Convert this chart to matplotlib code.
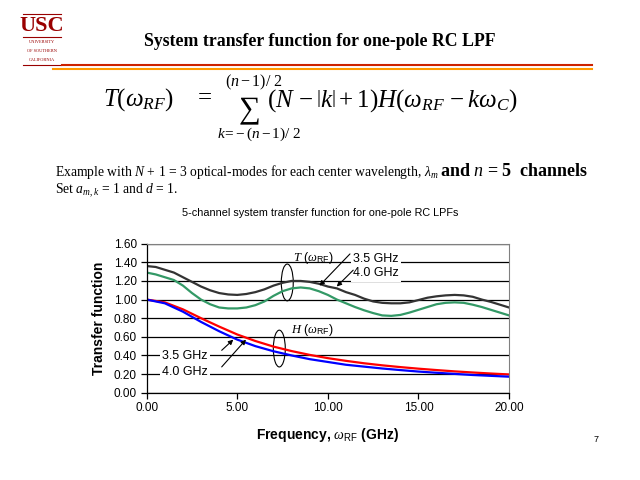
import numpy as np
import matplotlib
matplotlib.use("Agg")
import matplotlib.pyplot as plt
from matplotlib.patches import Ellipse
from matplotlib.ticker import FormatStrFormatter, MultipleLocator

plt.rcParams["font.family"] = ["Liberation Sans", "DejaVu Sans"]
plt.rcParams["mathtext.fontset"] = "custom"
plt.rcParams["mathtext.rm"] = "Liberation Serif"
plt.rcParams["mathtext.it"] = "Liberation Serif:italic"
plt.rcParams["mathtext.bf"] = "Liberation Serif:bold"
plt.rcParams["mathtext.sf"] = "Liberation Sans"

# frequency grids (GHz)
freq_t = np.arange(0, 20.5, 0.5)
freq_h = np.arange(0, 21, 1.0)

# T(w_RF), fc = 3.5 GHz (dark) and 4.0 GHz (green)
t_35 = [1.36, 1.35, 1.32, 1.29, 1.24, 1.19, 1.14, 1.10, 1.07, 1.055,
        1.05, 1.06, 1.08, 1.11, 1.15, 1.18, 1.20, 1.20, 1.19, 1.17,
        1.14, 1.12, 1.08, 1.05, 1.01, 0.98, 0.965, 0.96, 0.96, 0.97,
        0.995, 1.02, 1.035, 1.045, 1.05, 1.045, 1.03, 1.00, 0.975, 0.945,
        0.915]
t_40 = [1.29, 1.27, 1.24, 1.21, 1.15, 1.07, 1.00, 0.95, 0.915, 0.905,
        0.905, 0.915, 0.94, 0.98, 1.04, 1.09, 1.12, 1.13, 1.12, 1.09,
        1.05, 1.00, 0.96, 0.92, 0.885, 0.855, 0.83, 0.825, 0.835, 0.86,
        0.89, 0.92, 0.95, 0.965, 0.97, 0.965, 0.945, 0.92, 0.89, 0.86,
        0.83]

# H(w_RF)
h_40 = [1.0, 0.97, 0.895, 0.80, 0.71, 0.625, 0.555, 0.495, 0.447, 0.406,
        0.371, 0.342, 0.316, 0.294, 0.275, 0.258, 0.243, 0.229, 0.217,
        0.206, 0.196]
h_35 = [1.0, 0.96, 0.87, 0.76, 0.66, 0.57, 0.50, 0.445, 0.40, 0.36,
        0.33, 0.30, 0.28, 0.26, 0.243, 0.227, 0.214, 0.202, 0.19, 0.181,
        0.172]

W, H = 640, 480
fig = plt.figure(figsize=(6.4, 4.8), dpi=100)


def px(x, y):
    return x / W, 1 - y / H


# --- slide header -------------------------------------------------------
red = "#990000"
fig.text(*px(42, 26), "USC", fontsize=16, fontweight="bold", color=red,
         family="Liberation Serif", ha="center", va="center")
for yy, s in [(42, "UNIVERSITY"), (51, "OF SOUTHERN"), (60, "CALIFORNIA")]:
    fig.text(*px(42, yy), s, fontsize=3.2, color=red,
             family="Liberation Serif", ha="center", va="center")
for yy in [14, 37, 65]:
    fig.add_artist(plt.Line2D([23 / W, 61 / W], [1 - yy / H] * 2,
                              color=red, lw=0.8))

fig.text(*px(320, 41), "System transfer function for one-pole RC LPF",
         fontsize=12.8, fontweight="bold", family="Liberation Serif",
         ha="center", va="center")
fig.add_artist(plt.Line2D([62 / W, 592 / W], [1 - 64.7 / H] * 2,
                          color="#CC2200", lw=1.5))
fig.add_artist(plt.Line2D([53 / W, 592 / W], [1 - 68.5 / H] * 2,
                          color="#FF9900", lw=1.5))

# --- formula -------------------------------------------------------------
fig.text(*px(103, 100), r"$T(\omega_{RF})$", fontsize=18,
         ha="left", va="center")
fig.text(*px(205, 98), "=", fontsize=18, family="Liberation Serif",
         ha="center", va="center")
fig.text(*px(254, 82), r"$(n-1)/\ 2$", fontsize=11.5,
         ha="center", va="center")
fig.text(*px(250, 110), "\u2211", fontsize=22, family="Liberation Serif",
         ha="center", va="center")
fig.text(*px(259, 134), r"$k\!=\!-(n-1)/\ 2$", fontsize=11,
         ha="center", va="center")
fig.text(*px(267, 101),
         r"$(N\,-\left|k\right|+1)H(\omega_{RF}\,-k\omega_C)$",
         fontsize=18, ha="left", va="center")

# --- example text --------------------------------------------------------
fig.text(*px(55, 172),
         r"Example with $N$ + 1 = 3 optical-modes for each center wavelength, $\lambda_m$",
         fontsize=9.8, family="Liberation Serif", ha="left", va="center")
fig.text(*px(440, 171), r"and $n$ = 5  channels", fontsize=13,
         fontweight="bold", family="Liberation Serif", ha="left", va="center")
fig.text(*px(55, 191), r"Set $a_{m,k}$ = 1 and $d$ = 1.", fontsize=9.8,
         family="Liberation Serif", ha="left", va="center")

fig.text(*px(320, 213), "5-channel system transfer function for one-pole RC LPFs",
         fontsize=7.8, ha="center", va="center")
fig.text(*px(596, 440), "7", fontsize=6.5, ha="center", va="center")

# --- chart ---------------------------------------------------------------
ax = fig.add_axes([146.7 / W, 1 - 392.7 / H, (509 - 146.7) / W, (392.7 - 243.7) / H])
ax.set_axisbelow(True)
ax.yaxis.grid(True, color="black", lw=0.9)
ax.plot(freq_t, t_35, color="#333333", lw=1.6)
ax.plot(freq_t, t_40, color="#339966", lw=1.6)
ax.plot(freq_h, h_40, color="#FF0000", lw=1.6)
ax.plot(freq_h, h_35, color="#0000FF", lw=1.6)

ax.set_xlim(0, 20)
ax.set_ylim(0, 1.6)
ax.xaxis.set_major_locator(MultipleLocator(5))
ax.yaxis.set_major_locator(MultipleLocator(0.2))
ax.xaxis.set_major_formatter(FormatStrFormatter("%.2f"))
ax.yaxis.set_major_formatter(FormatStrFormatter("%.2f"))
ax.tick_params(labelsize=8.5, length=4, width=0.9, direction="out", pad=3)
for side in ["top", "right"]:
    ax.spines[side].set_color("#808080")
for side in ["left", "bottom"]:
    ax.spines[side].set_linewidth(0.9)

ax.set_ylabel("Transfer function", fontsize=10, fontweight="bold", labelpad=6)
ax.set_xlabel(r"Frequency, $\omega_{\mathsf{RF}}$ (GHz)", fontsize=10,
              fontweight="bold", labelpad=8)

box = dict(facecolor="white", edgecolor="none", pad=1.5)
ax.text(8.1, 1.45, r"$T$ ($\omega_{\mathsf{RF}}$)", fontsize=9, va="center")
ax.text(7.95, 0.67, r"$H$ ($\omega_{\mathsf{RF}}$)", fontsize=9, va="center")
ax.text(11.4, 1.44, "3.5 GHz", fontsize=9, va="center", bbox=box)
ax.text(11.4, 1.28, "4.0 GHz", fontsize=9, va="center", bbox=box)
ax.text(0.85, 0.39, "3.5 GHz", fontsize=9, va="center", bbox=box)
ax.text(0.85, 0.22, "4.0 GHz", fontsize=9, va="center", bbox=box)

ax.add_patch(Ellipse((7.76, 1.184), 0.66, 0.395, fill=False, lw=0.8))
ax.add_patch(Ellipse((7.32, 0.474), 0.66, 0.395, fill=False, lw=0.8))

arrow = dict(arrowstyle="-|>", lw=0.8, color="black", mutation_scale=7,
             shrinkA=0, shrinkB=0)
ax.annotate("", xy=(9.54, 1.15), xytext=(11.22, 1.49), arrowprops=arrow)
ax.annotate("", xy=(10.49, 1.14), xytext=(11.40, 1.316), arrowprops=arrow)
ax.annotate("", xy=(4.78, 0.57), xytext=(4.14, 0.455), arrowprops=arrow)
ax.annotate("", xy=(5.48, 0.57), xytext=(4.14, 0.277), arrowprops=arrow)

fig.savefig("out.png", dpi=100)
